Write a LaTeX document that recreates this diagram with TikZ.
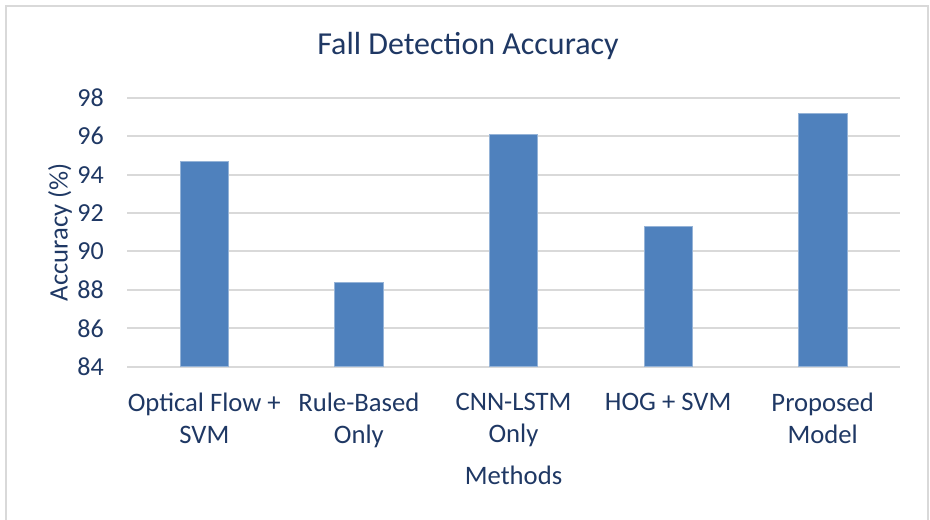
\documentclass[tikz,border=0pt]{standalone}
\usepackage{fontspec}
\setmainfont{Carlito}
\definecolor{bartop}{HTML}{4F81BD}
\definecolor{gridc}{HTML}{D9D9D9}
\definecolor{txt}{HTML}{1F3864}
\definecolor{framec}{HTML}{D9D9D9}
\begin{document}
\begin{tikzpicture}[x=0.75pt,y=-0.75pt,
  gridline/.style={draw=gridc,line width=1.5pt},
  barbox/.style={fill=bartop,draw=bartop!60!white,line width=0.5pt},
  ticklab/.style={text=txt,font=\fontsize{19.5}{22}\selectfont,anchor=east,inner sep=0pt},
  catlab/.style={text=txt,font=\fontsize{20}{24}\selectfont,align=center,anchor=north,inner sep=0pt},
  axtitle/.style={text=txt,font=\fontsize{20}{22}\selectfont,inner sep=0pt},
  charttitle/.style={text=txt,font=\fontsize{24}{26}\selectfont,inner sep=0pt}]
\useasboundingbox (0,0) rectangle (930,520);
\draw[framec,line width=1pt] (6,530) -- (6,6) -- (928,6) -- (928,530);
\node[charttitle] (title) at (468,46) {Fall Detection Accuracy};
% gridlines
\foreach \v [count=\i] in {84,86,...,98}{
  \pgfmathsetmacro{\yy}{366.7-(\v-84)*19.21}
  \draw[gridline] (127,\yy) -- (900,\yy);
  \node[ticklab] (t\i) at (104,\yy) {\v};
}
% bars
\foreach \c/\val/\nm in {0/94.7/b1,1/88.4/b2,2/96.1/b3,3/91.3/b4,4/97.2/b5}{
  \pgfmathsetmacro{\xc}{204.3+\c*154.6}
  \pgfmathsetmacro{\yt}{366.7-(\val-84)*19.21}
  \draw[barbox] (\xc-24.15,366.7) rectangle (\xc+24.15,\yt);
}
\node[catlab] (c1) at (204.3,393) {Optical Flow +\\SVM};
\node[catlab] (c2) at (358.9,393) {Rule-Based\\Only};
\node[catlab] (c3) at (513.5,393) {CNN-LSTM\\Only};
\node[catlab] (c4) at (668.1,393) {HOG + SVM};
\node[catlab] (c5) at (822.7,393) {Proposed\\Model};
\node[axtitle] (xt) at (513.5,475) {Methods};
\node[axtitle,rotate=90] (yt) at (60,232) {Accuracy (\%)};
\end{tikzpicture}
\end{document}
